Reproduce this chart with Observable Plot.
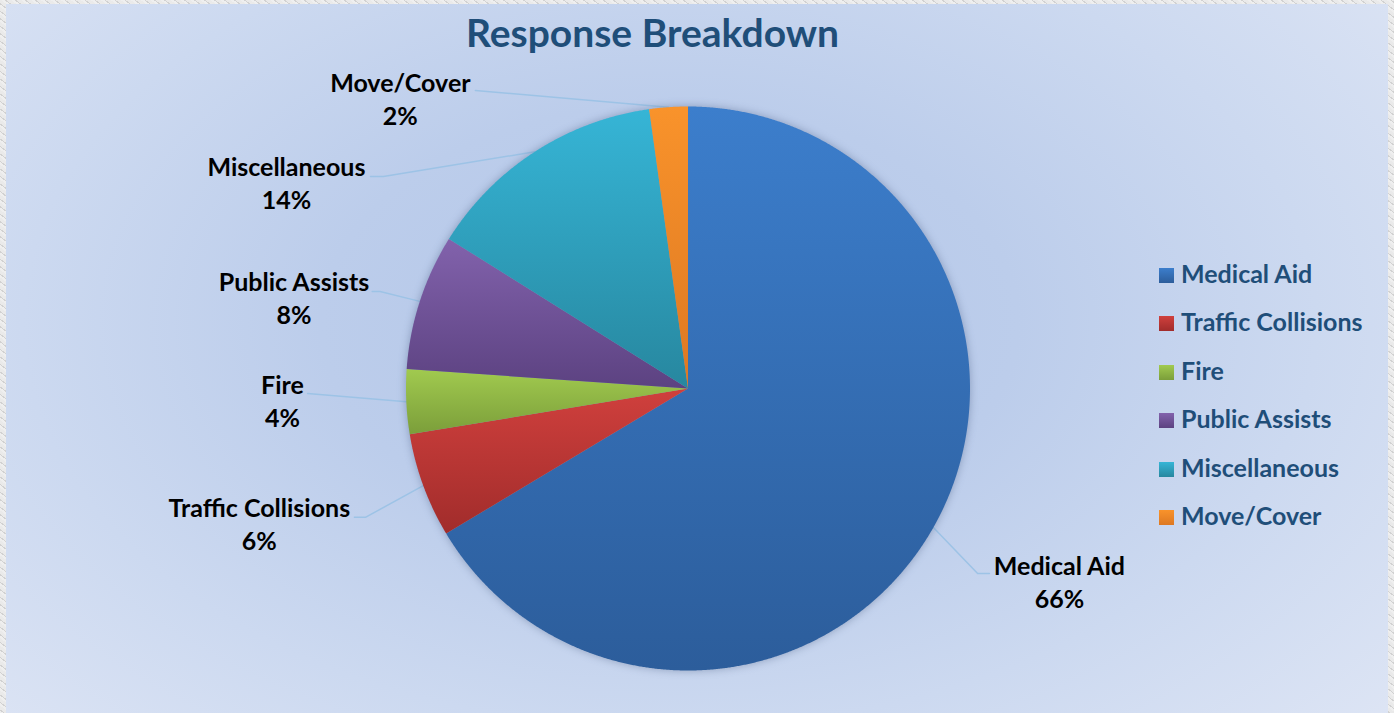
<!DOCTYPE html>
<html>
<head>
<meta charset="utf-8">
<script src="https://cdn.jsdelivr.net/npm/d3@7"></script>
<script src="https://cdn.jsdelivr.net/npm/@observablehq/plot@0.6"></script>
<style>
  html, body { margin: 0; padding: 0; }
  body { width: 1394px; height: 713px; overflow: hidden; font-family: Lato, "Open Sans", sans-serif; }
  #frame {
    position: relative; width: 1394px; height: 713px;
    background: #dcdcdc;
    background-image: repeating-linear-gradient(37deg, rgba(255,255,255,0.55) 0 2px, rgba(190,190,190,0.35) 2px 3px, rgba(255,255,255,0.4) 3px 6px);
  }
  #panel {
    position: absolute; left: 6px; top: 4px; width: 1382px; height: 709px;
    background: radial-gradient(ellipse 72% 88% at 48% 45%, #B3C6E8 0%, #BCCDEB 35%, #CCD9F0 65%, #DFE6F5 100%);
  }
  #title {
    position: absolute; left: 0; width: 1305px; top: 11px;
    text-align: center; font: bold 39px/42px Lato, sans-serif; color: #1F4E79;
  }
  #chart { position: absolute; left: 0; top: 0; }
  #legend { position: absolute; left: 1159px; top: 259px; }
  .row { height: 28.8px; margin-bottom: 19.6px; font: bold 25px/28.8px Lato, sans-serif; color: #1F4E79; white-space: nowrap; }
  .sw { display: inline-block; width: 15px; height: 15px; vertical-align: baseline; margin-right: 7px; }
  .lt { display: inline-block; }
</style>
</head>
<body>
<div id="frame">
  <div id="panel"></div>
  <div id="title">Response Breakdown</div>
  <div id="chart"></div>
  <div id="legend"></div>
</div>
<script>
// ---- data ----
const categories = ["Medical Aid", "Traffic Collisions", "Fire", "Public Assists", "Miscellaneous", "Move/Cover"];
const shares = [66.4, 6.0, 3.7, 7.8, 13.9, 2.2];
const percentLabels = ["66%", "6%", "4%", "8%", "14%", "2%"];
const topColors = ["#3C7ECC", "#D0403D", "#A1CA4F", "#8262AC", "#36B5D6", "#F9932B"];
const bottomColors = ["#2C5D9B", "#A12C2B", "#7B9E3A", "#5C4281", "#27879F", "#DD7822"];

// ---- label layout (in pie-radius units, relative to pie centre) ----
const labelX = [1.317, -1.520, -1.438, -1.397, -1.424, -1.020];
const labelY = [-0.660, -0.457, -0.021, 0.345, 0.752, 1.053];
const elbowX = [1.027, -1.144, null, -1.092, -1.080, null];
const elbowY = [-0.656, -0.457, null, 0.344, 0.752, null];
const endX = [1.069, -1.183, -1.349, -1.120, -1.126, -0.754];
const endY = [-0.656, -0.457, -0.018, 0.344, 0.752, 1.057];

// ---- pie geometry ----
const cx = 687.5, cy = 388, R = 282;
const arcs = d3.pie().sort(null).value(d => d)(shares);

const slicePts = [];
arcs.forEach((a, i) => {
  const grad = `url(#grad${i})`;
  slicePts.push({cat: categories[i], g: grad, x: 0, y: 0});
  const n = Math.max(2, Math.ceil((a.endAngle - a.startAngle) / 0.004));
  for (let k = 0; k <= n; k++) {
    const t = a.startAngle + (a.endAngle - a.startAngle) * k / n;
    slicePts.push({cat: categories[i], g: grad, x: Math.sin(t), y: Math.cos(t)});
  }
  slicePts.push({cat: categories[i], g: grad, x: 0, y: 0});
});

const leaderPts = [];
arcs.forEach((a, i) => {
  const m = (a.startAngle + a.endAngle) / 2;
  leaderPts.push({cat: categories[i], x: Math.sin(m), y: Math.cos(m)});
  if (elbowX[i] !== null) leaderPts.push({cat: categories[i], x: elbowX[i], y: elbowY[i]});
  leaderPts.push({cat: categories[i], x: endX[i], y: endY[i]});
});

const labels = categories.map((c, i) => ({cat: c, pct: percentLabels[i], x: labelX[i], y: labelY[i]}));

const chart = Plot.plot({
  width: 1394,
  height: 713,
  margin: 0,
  style: {background: "transparent", overflow: "visible"},
  x: {domain: [-1, 1], range: [cx - R, cx + R], axis: null},
  y: {domain: [-1, 1], range: [cy + R, cy - R], axis: null},
  color: {type: "identity"},
  marks: [
    Plot.line(leaderPts, {x: "x", y: "y", z: "cat", stroke: "#9DC3E6", strokeWidth: 1.5, curve: "linear"}),
    Plot.line(slicePts, {x: "x", y: "y", z: "cat", fill: "g", stroke: "none", curve: "linear"}),
    Plot.text(labels, {x: "x", y: "y", text: "cat", textAnchor: "middle", lineAnchor: "bottom", fontSize: 25, fontWeight: "bold", fontFamily: "Lato", fill: "#000"}),
    Plot.text(labels, {x: "x", y: "y", text: "pct", dy: 33, textAnchor: "middle", lineAnchor: "bottom", fontSize: 25, fontWeight: "bold", fontFamily: "Lato", fill: "#000"})
  ]
});

// gradients
const svg = d3.select(chart);
const defs = svg.insert("defs", ":first-child");
categories.forEach((c, i) => {
  const lg = defs.append("linearGradient").attr("id", `grad${i}`).attr("x1", 0).attr("y1", 0).attr("x2", 0).attr("y2", 1);
  lg.append("stop").attr("offset", "0%").attr("stop-color", topColors[i]);
  lg.append("stop").attr("offset", "100%").attr("stop-color", bottomColors[i]);
});
// soft shadow on the pie
const lineGroups = chart.querySelectorAll('g[aria-label="line"]');
if (lineGroups[1]) lineGroups[1].setAttribute("style", "filter: drop-shadow(0px 0px 4px rgba(40,60,100,0.35))");
document.getElementById("chart").appendChild(chart);

// legend
const legend = d3.select("#legend");
categories.forEach((c, i) => {
  const row = legend.append("div").attr("class", "row");
  row.append("span").attr("class", "sw").style("background", `linear-gradient(${topColors[i]}, ${bottomColors[i]})`);
  row.append("span").attr("class", "lt").text(c);
});
</script>
</body>
</html>
